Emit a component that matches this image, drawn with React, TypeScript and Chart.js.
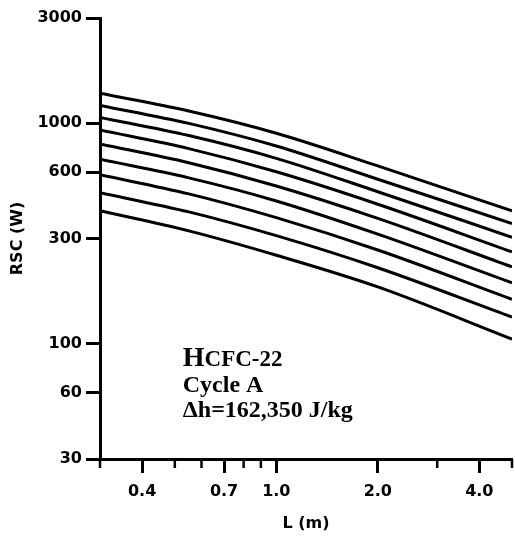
import React, { useEffect, useRef } from 'react';
import { Chart, registerables } from 'chart.js';

Chart.register(...registerables);

// Pipe length L (m)
const lengths = [0.3, 0.55, 1.0, 2.0, 5.0];

// RSC (W) curves, top to bottom
const rscCurve1 = [1366, 1135, 900, 640, 400];
const rscCurve2 = [1205, 998, 788, 557, 351];
const rscCurve3 = [1063, 879, 693, 489, 304];
const rscCurve4 = [931, 767, 602, 429, 261];
const rscCurve5 = [805, 662, 519, 370, 223];
const rscCurve6 = [686, 565, 444, 314, 189];
const rscCurve7 = [584, 478, 373, 266, 159];
const rscCurve8 = [484, 396, 309, 221, 132];
const rscCurve9 = [401, 325, 252, 181, 105];

const allCurves = [
  rscCurve1, rscCurve2, rscCurve3, rscCurve4, rscCurve5,
  rscCurve6, rscCurve7, rscCurve8, rscCurve9,
];

const yTickValues = [30, 60, 100, 300, 600, 1000, 3000];
const xMajorTickValues = [0.4, 0.7, 1.0, 2.0, 4.0];
const xMajorTickLabels = ['0.4', '0.7', '1.0', '2.0', '4.0'];
const xMinorTickValues = [0.3, 0.5, 0.6, 0.8, 0.9, 3.0, 5.0];

const noteTitleFirst = 'H';
const noteTitleRest = 'CFC-22';
const noteLine2 = 'Cycle A';
const noteLine3 = 'Δh=162,350 J/kg';

const SANS = '"DejaVu Sans", sans-serif';
const SERIF = '"Liberation Serif", "Times New Roman", serif';

const extrasPlugin = {
  id: 'extras',
  afterDraw(chart: any) {
    const ctx = chart.ctx;
    const xs = chart.scales.x;
    const ys = chart.scales.y;
    ctx.save();
    // minor x ticks
    ctx.strokeStyle = '#000';
    ctx.lineWidth = 2.5;
    xMinorTickValues.forEach((v) => {
      const px = xs.getPixelForValue(v);
      ctx.beginPath();
      ctx.moveTo(px, ys.bottom);
      ctx.lineTo(px, ys.bottom + 9);
      ctx.stroke();
    });
    // annotation
    const ax = xs.getPixelForValue(0.528);
    const ay = ys.getPixelForValue(79);
    ctx.fillStyle = '#000';
    ctx.textBaseline = 'alphabetic';
    ctx.textAlign = 'left';
    ctx.font = `bold 28px ${SERIF}`;
    ctx.fillText(noteTitleFirst, ax, ay);
    const hw = ctx.measureText(noteTitleFirst).width;
    ctx.font = `bold 23px ${SERIF}`;
    ctx.fillText(noteTitleRest, ax + hw, ay);
    ctx.font = `bold 24px ${SERIF}`;
    ctx.fillText(noteLine2, ax, ay + 25.5);
    ctx.fillText(noteLine3, ax, ay + 51);
    ctx.restore();
  },
};

export default function App() {
  const canvasRef = useRef<HTMLCanvasElement | null>(null);

  useEffect(() => {
    if (!canvasRef.current) return;
    const datasets = allCurves.map((curve, i) => ({
      label: `Curve ${i + 1}`,
      data: lengths.map((x, j) => ({ x, y: curve[j] })),
      borderColor: '#000',
      borderWidth: 3,
      pointRadius: 0,
      fill: false,
      cubicInterpolationMode: 'monotone' as const,
    }));

    const chart = new Chart(canvasRef.current, {
      type: 'line',
      data: { datasets },
      options: {
        animation: false,
        responsive: false,
        devicePixelRatio: 1,
        layout: { padding: { top: 18, right: 3, left: 0, bottom: 0 } },
        plugins: {
          legend: { display: false },
          tooltip: { enabled: false },
        },
        scales: {
          x: {
            type: 'logarithmic',
            min: 0.3,
            max: 5,
            afterBuildTicks: (scale: any) => {
              scale.ticks = xMajorTickValues.map((v) => ({ value: v }));
            },
            afterFit: (scale: any) => {
              scale.height = 79;
            },
            ticks: {
              autoSkip: false,
              maxRotation: 0,
              padding: 9,
              color: '#000',
              font: { family: SANS, size: 16, weight: 'bold' },
              callback: (_v: any, index: number) => xMajorTickLabels[index] ?? '',
            },
            grid: {
              drawOnChartArea: false,
              drawTicks: true,
              tickLength: 14,
              tickWidth: 3,
              tickColor: '#000',
            },
            border: { display: true, width: 3, color: '#000' },
            title: {
              display: true,
              text: 'L (m)',
              color: '#000',
              font: { family: SANS, size: 16, weight: 'bold' },
              padding: { top: 0, bottom: 5 },
            },
          },
          y: {
            type: 'logarithmic',
            min: 30,
            max: 3000,
            afterBuildTicks: (scale: any) => {
              scale.ticks = yTickValues.map((v) => ({ value: v }));
            },
            afterFit: (scale: any) => {
              scale.width = 100;
            },
            ticks: {
              autoSkip: false,
              padding: 4,
              color: '#000',
              font: { family: SANS, size: 16, weight: 'bold' },
              callback: (v: any) => String(v),
            },
            grid: {
              drawOnChartArea: false,
              drawTicks: true,
              tickLength: 14,
              tickWidth: 3,
              tickColor: '#000',
            },
            border: { display: true, width: 3, color: '#000' },
            title: {
              display: true,
              text: 'RSC (W)',
              color: '#000',
              font: { family: SANS, size: 16, weight: 'bold' },
              padding: { top: 8, bottom: 0 },
            },
          },
        },
      },
      plugins: [extrasPlugin],
    });

    return () => chart.destroy();
  }, []);

  return (
    <div style={{ position: 'fixed', left: 0, top: 0, width: 515, height: 538, background: '#fff' }}>
      <canvas ref={canvasRef} width={515} height={538} style={{ width: 515, height: 538, display: 'block' }} />
    </div>
  );
}
